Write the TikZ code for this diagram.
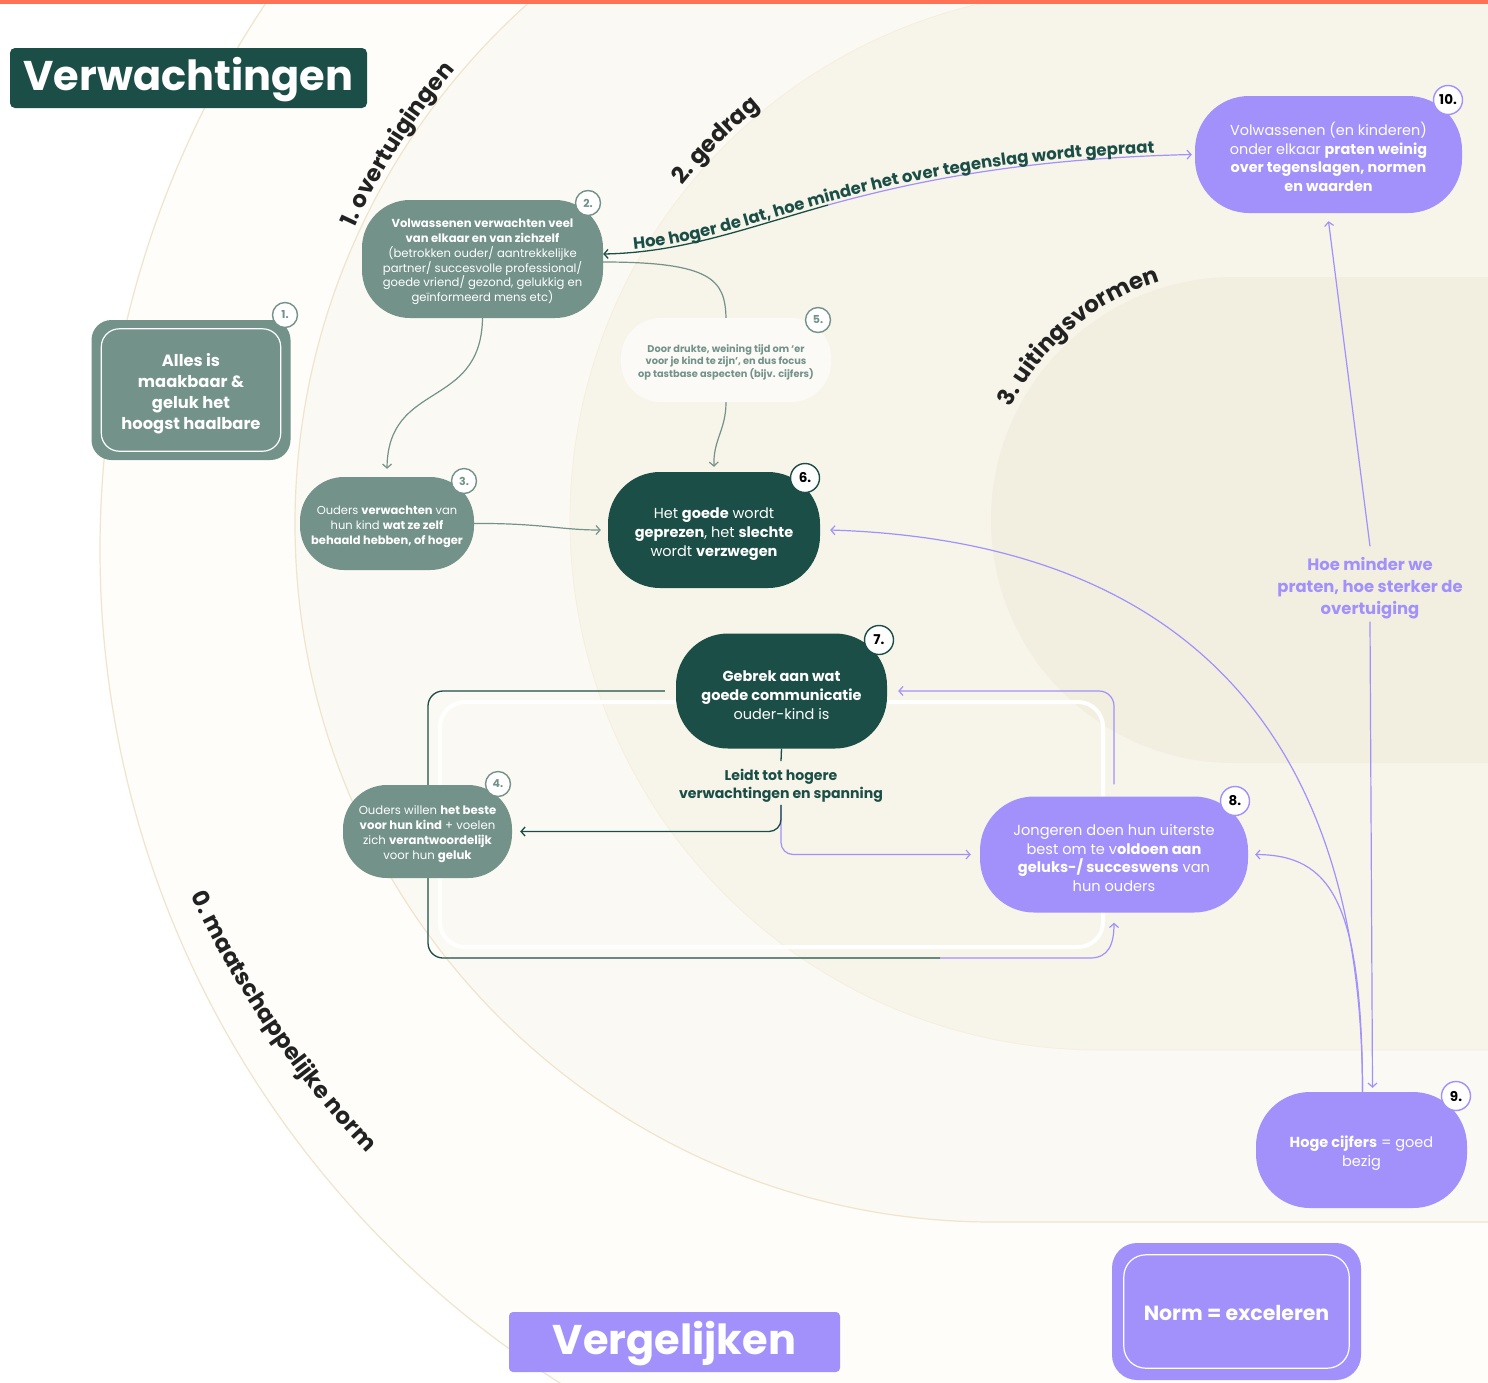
\documentclass[tikz,border=0pt]{standalone}
\usepackage{fontspec}
\setmainfont{Poppins}
\usetikzlibrary{decorations.text, arrows.meta}
\definecolor{dkgreen}{HTML}{1B4E46}
\definecolor{ggreen}{HTML}{73928A}
\definecolor{purp}{HTML}{A291FB}
\definecolor{coral}{HTML}{FF7256}
\definecolor{bgzero}{HTML}{FEFDFA}
\definecolor{bgone}{HTML}{FBF9F3}
\definecolor{bgtwo}{HTML}{F7F4EA}
\definecolor{bgthree}{HTML}{F2EEE0}
\definecolor{arcline}{HTML}{F0E5CC}
\definecolor{nfive}{HTML}{FBFAF6}
\definecolor{lbltext}{HTML}{222222}
\newcommand{\txtdrop}{\rule{0pt}{1.25em}}
\newcommand{\titledrop}{\rule{0pt}{0.86em}}
\pgfdeclarelayer{back}
\pgfdeclarelayer{mid}
\pgfsetlayers{back,mid,main}
\tikzset{
  base/.style={align=center, inner sep=0pt, text=white},
  gbox/.style={base, fill=ggreen},
  dbox/.style={base, fill=dkgreen},
  pbox/.style={base, fill=purp},
  badge/.style={circle, fill=white, draw=#1, line width=1.4pt, inner sep=0pt},
  tip/.style={-{Straight Barb[length=4pt,width=9pt]}},
  gline/.style={draw=ggreen, line width=1.2pt},
  garrow/.style={gline, tip},
  dline/.style={draw=dkgreen, line width=1.3pt},
  darrow/.style={dline, tip},
  parrow/.style={draw=purp, line width=1.2pt, tip},
  arclabel/.style={decorate, decoration={text along path, text align=center, text={|\bfseries\fontsize{23}{23}\selectfont\color{lbltext}|#1}}}
}
\begin{document}
\begin{tikzpicture}[x=1pt,y=-1pt]
\useasboundingbox (0,0) rectangle (1488,1382);
\coordinate (c0) at (1084,550);
\coordinate (ct0) at (1062,488);
\coordinate (c1) at (993,524);
\coordinate (c2) at (1100,520);
\coordinate (c3) at (1234,520);

% ---------- nodes ----------
\node[fill=dkgreen, rounded corners=5pt, minimum width=357pt, minimum height=60pt, text=white, inner sep=0pt, font=\bfseries\fontsize{41.5}{41.5}\selectfont] (tV) at (188.5,78) {\titledrop Verwachtingen};
\node[fill=purp, rounded corners=4pt, minimum width=331pt, minimum height=60pt, text=white, inner sep=0pt, font=\bfseries\fontsize{41.5}{41.5}\selectfont] (tG) at (674.5,1342) {\titledrop Vergelijken};
\node[fill=purp, rounded corners=25pt, minimum width=249pt, minimum height=137pt, text=white, inner sep=0pt, font=\bfseries\fontsize{20.5}{20.5}\selectfont] (tN) at (1236.5,1311.5) {\titledrop Norm = exceleren};
\draw[white, line width=1.2pt, rounded corners=22pt] ([shift={(12pt,-12pt)}]tN.north west) rectangle ([shift={(-12pt,12pt)}]tN.south east);

\node[gbox, minimum width=199pt, minimum height=140pt, rounded corners=20pt, font=\bfseries\fontsize{16.3}{21}\selectfont] (n1) at (191,390) {\txtdrop Alles is\\maakbaar \&\\geluk het\\hoogst haalbare};
\draw[white, line width=1.2pt, rounded corners=18pt] ([shift={(10pt,-9pt)}]n1.north west) rectangle ([shift={(-10pt,9pt)}]n1.south east);

\node[gbox, minimum width=241pt, minimum height=118pt, rounded corners=48pt, font=\fontsize{11.6}{14.8}\selectfont] (n2) at (482.5,259) {\txtdrop\textbf{Volwassenen verwachten veel}\\\textbf{van elkaar en van zichzelf}\\(betrokken ouder/ aantrekkelijke\\partner/ succesvolle professional/\\goede vriend/ gezond, gelukkig en\\geïnformeerd mens etc)};

\node[gbox, minimum width=174pt, minimum height=93pt, rounded corners=44pt, font=\fontsize{11.5}{15}\selectfont] (n3) at (387,523.5) {\txtdrop Ouders \textbf{verwachten} van\\hun kind \textbf{wat ze zelf}\\\textbf{behaald hebben, of hoger}};

\node[gbox, minimum width=169pt, minimum height=93pt, rounded corners=44pt, font=\fontsize{11.7}{15}\selectfont] (n4) at (427.5,831.5) {\txtdrop Ouders willen \textbf{het beste}\\\textbf{voor hun kind} + voelen\\zich \textbf{verantwoordelijk}\\voor hun \textbf{geluk}};

\node[base, fill=nfive, text=ggreen, minimum width=210pt, minimum height=84pt, rounded corners=40pt, font=\bfseries\fontsize{9.8}{12.3}\selectfont] (n5) at (726,360) {\txtdrop Door drukte, weining tijd om ‘er\\voor je kind te zijn’, en dus focus\\op tastbase aspecten (bijv. cijfers)};

\node[dbox, minimum width=212pt, minimum height=116pt, rounded corners=52pt, font=\fontsize{14.5}{19}\selectfont] (n6) at (714,530) {\txtdrop Het \textbf{goede} wordt\\\textbf{geprezen}, het \textbf{slechte}\\wordt \textbf{verzwegen}};

\node[dbox, minimum width=211pt, minimum height=115pt, rounded corners=52pt, font=\fontsize{14.5}{19}\selectfont] (n7) at (781.5,691) {\txtdrop\textbf{Gebrek aan wat}\\\textbf{goede communicatie}\\ouder-kind is};

\node[pbox, minimum width=268pt, minimum height=116pt, rounded corners=54pt, font=\fontsize{14.6}{18.8}\selectfont] (n8) at (1114,854.5) {\txtdrop Jongeren doen hun uiterste\\best om te v\textbf{oldoen aan}\\\textbf{geluks-/ succeswens} van\\hun ouders};

\node[pbox, minimum width=211pt, minimum height=116pt, rounded corners=54pt, font=\fontsize{14.5}{18.5}\selectfont] (n9) at (1361.5,1150) {\txtdrop\textbf{Hoge cijfers} = goed\\bezig};

\node[pbox, minimum width=267pt, minimum height=117pt, rounded corners=54pt, font=\fontsize{14.4}{18.7}\selectfont] (n10) at (1328.5,154.5) {\txtdrop Volwassenen (en kinderen)\\onder elkaar \textbf{praten weinig}\\\textbf{over tegenslagen, normen}\\\textbf{en waarden}};

\node[align=center, text=dkgreen, inner sep=2pt, font=\bfseries\fontsize{14.1}{18}\selectfont] (l7) at (781,783) {\txtdrop Leidt tot hogere\\verwachtingen en spanning};
\node[align=center, text=purp, inner sep=3pt, font=\bfseries\fontsize{16.4}{22}\selectfont] (lp) at (1370,584) {\txtdrop Hoe minder we\\praten, hoe sterker de\\overtuiging};

% badges
\foreach \nm/\px/\py/\tx in {b1/285/315/1., b2/588/203/2., b3/464/481/3., b4/498/784/4., b5/818/320/5.}{
  \node[badge=ggreen, minimum size=25pt, text=ggreen, font=\bfseries\fontsize{11}{11}\selectfont] (\nm) at (\px,\py) {\tx};
}
\foreach \nm/\px/\py/\tx in {b6/805/478/6., b7/879/640/7.}{
  \node[badge=dkgreen, minimum size=29pt, text=black, font=\bfseries\fontsize{13.5}{13.5}\selectfont] (\nm) at (\px,\py) {\tx};
}
\foreach \nm/\px/\py/\tx in {b8/1235/801/8., b9/1456/1096/9., b10/1448/100/10.}{
  \node[badge=purp, minimum size=29pt, text=black, font=\bfseries\fontsize{13.5}{13.5}\selectfont] (\nm) at (\px,\py) {\tx};
}

% ---------- background regions ----------
\begin{pgfonlayer}{back}
\begin{scope}
\clip (0,0) rectangle (1488,1382);
\fill[white] (0,0) rectangle (1488,1382);
\path[fill=bgzero, draw=arcline, line width=1.2pt] (c0) circle[radius=984pt];
\path[fill=bgone, draw=arcline, line width=1.2pt] (1600,-174) -- (993,-174) arc[start angle=90, end angle=270, radius=698pt] -- (1600,1222) -- cycle;
\path[fill=bgtwo, draw=arcline!60, line width=0.8pt] (1600,-10) -- (1100,-10) arc[start angle=90, end angle=270, radius=530pt] -- (1600,1050) -- cycle;
\path[fill=bgthree] (1600,277) -- (1234,277) arc[start angle=90, end angle=270, radius=243pt] -- (1600,763) -- cycle;
\fill[coral] (0,0) rectangle (1488,4);
\draw[white, line width=4pt, rounded corners=25pt] (440,702) rectangle (1103,947);
\end{scope}
% curved region labels
\path[arclabel={0. maatschappelijke norm}] ([shift={(199.4:962pt)}]ct0) arc[start angle=199.4, end angle=229.4, radius=962pt];
\path[arclabel={1. overtuigingen}] ([shift={(160:704pt)}]c1) arc[start angle=160, end angle=135, radius=704pt];
\path[arclabel={2. gedrag}] ([shift={(152:535pt)}]c2) arc[start angle=152, end angle=118.7, radius=535pt];
\path[arclabel={3. uitingsvormen}] ([shift={(165.25:250pt)}]c3) arc[start angle=165.25, end angle=95.25, radius=250pt];
\end{pgfonlayer}

% ---------- connectors ----------
\begin{pgfonlayer}{mid}
\draw[garrow] (n2.south) .. controls (481,410) and (388,380) .. ([yshift=8pt]n3.north);
\draw[gline] ([yshift=-3pt]n2.east) .. controls (712,262) and (725,280) .. (n5.north);
\draw[garrow] (n5.south) .. controls (726,430) and (713,440) .. ([yshift=5pt]n6.north);
\draw[garrow] (n3.east) .. controls (540,523) and (560,530) .. ([xshift=-7pt]n6.west);

\coordinate (mid) at (828,205);
\draw[darrow] (mid) .. controls (743.5,228.75) and (682,252.5) .. ([yshift=5pt]n2.east);
\draw[parrow] (mid) .. controls (913,181.75) and (1021,158.5) .. ([xshift=-3pt]n10.west);
\path[decorate, decoration={text along path, raise=3pt, text align={left indent=31pt}, text={|\bfseries\fontsize{16.5}{16.5}\selectfont\color{dkgreen}|Hoe hoger de lat{,} hoe minder het over tegenslag wordt gepraat}}] ([yshift=5pt]n2.east) .. controls (682,252.5) and (743.5,228.75) .. (mid) .. controls (913,181.75) and (1021,158.5) .. ([xshift=-3pt]n10.west);

\draw[parrow] ([xshift=1pt]n9.north) .. controls (1362,700) and (1150,540) .. ([xshift=10pt]n6.east);
\draw[parrow] ([xshift=1pt]n9.north) .. controls (1362,900) and (1330,855) .. ([xshift=7pt]n8.east);
\draw[parrow] (lp.north) -- ([yshift=-8pt]n10.south);
\draw[parrow] (lp.south) -- ([xshift=11pt, yshift=4pt]n9.north);

\coordinate (lo1) at (940,958);
\draw[dline, rounded corners=15pt] ([xshift=-11pt]n7.west) -- (428,691) -- (428,958) -- (lo1);
\draw[parrow] (lo1) -- (1090,958) .. controls (1108,958) and (1114,945) .. ([yshift=-10pt]n8.south);
\draw[parrow, rounded corners=15pt] ([yshift=12pt]n8.north) -- (1114,691) -- ([xshift=11pt]n7.east);

\draw[dline] (n7.south) -- (l7.north);
\draw[parrow, rounded corners=12pt] (l7.south) |- ([xshift=-9pt]n8.west);
\draw[darrow, rounded corners=12pt] (l7.south) |- ([xshift=8pt]n4.east);
\end{pgfonlayer}
\end{tikzpicture}
\end{document}
